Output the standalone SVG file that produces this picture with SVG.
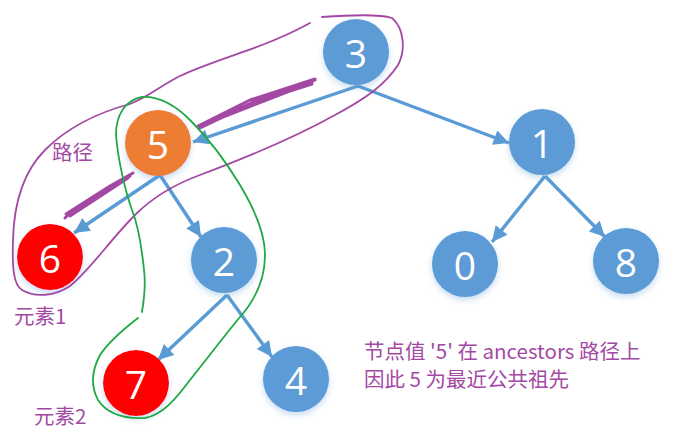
<svg xmlns="http://www.w3.org/2000/svg" width="673" height="447" viewBox="0 0 673 447">
<style>
.nd{stroke:none}
.blue{fill:#5B9BD5}
.orange{fill:#ED7D31}
.red{fill:#FF0000}
.lbl{font-family:"Open Sans","Noto Sans","Liberation Sans",sans-serif;font-size:39px;fill:#FFFFFF;text-anchor:middle;dominant-baseline:central}
.edge{stroke:#5B9BD5;stroke-width:3.4;fill:none;marker-end:url(#arr)}
.pur{stroke:#A349A4;fill:none;stroke-width:1.8;stroke-linejoin:round;stroke-linecap:round}
.scr{stroke:#A349A4;fill:none;stroke-width:3;stroke-linejoin:round;stroke-linecap:round}
.grn{stroke:#1FA845;fill:none;stroke-width:1.8;stroke-linejoin:round;stroke-linecap:round}
.note{font-family:"Noto Sans CJK SC","Noto Sans",sans-serif;font-size:20.5px;fill:#A349A4}
</style>
<defs>
<marker id="arr" viewBox="0 0 10 10" refX="10" refY="5" markerWidth="5" markerHeight="4.5" orient="auto" markerUnits="strokeWidth">
<path d="M0,0 L10,5 L0,10 z" fill="#5B9BD5"/>
</marker>
<filter id="sh" x="-30%" y="-30%" width="160%" height="170%">
<feGaussianBlur in="SourceAlpha" stdDeviation="3"/>
<feOffset dy="3" result="b"/>
<feFlood flood-color="#5B9BD5" flood-opacity="0.35"/>
<feComposite in2="b" operator="in"/>
<feMerge><feMergeNode/><feMergeNode in="SourceGraphic"/></feMerge>
</filter>
</defs>
<rect width="673" height="447" fill="#FFFFFF"/>

<g id="connectors">
<line class="edge" x1="358" y1="86" x2="193" y2="142"/>
<line class="edge" x1="358" y1="86" x2="509" y2="143"/>
<line class="edge" x1="160" y1="175" x2="74" y2="233"/>
<line class="edge" x1="160" y1="175" x2="201" y2="237"/>
<line class="edge" x1="227" y1="295" x2="158" y2="360"/>
<line class="edge" x1="227" y1="295" x2="272" y2="357"/>
<line class="edge" x1="545" y1="176" x2="492" y2="242"/>
<line class="edge" x1="545" y1="176" x2="605" y2="237"/>
</g>

<g id="node-3"><circle class="nd blue" cx="356" cy="52" r="33" filter="url(#sh)"/><text class="lbl" x="356" y="52">3</text></g>
<g id="node-5"><circle class="nd orange" cx="158" cy="143" r="33" filter="url(#sh)"/><text class="lbl" x="158" y="143">5</text></g>
<g id="node-1"><circle class="nd blue" cx="542" cy="142" r="33" filter="url(#sh)"/><text class="lbl" x="542" y="142">1</text></g>
<g id="node-6"><circle class="nd red" cx="50" cy="257" r="33" filter="url(#sh)"/><text class="lbl" x="50" y="257">6</text></g>
<g id="node-2"><circle class="nd blue" cx="224" cy="260" r="33" filter="url(#sh)"/><text class="lbl" x="224" y="260">2</text></g>
<g id="node-0"><circle class="nd blue" cx="465" cy="264" r="33" filter="url(#sh)"/><text class="lbl" x="465" y="264">0</text></g>
<g id="node-8"><circle class="nd blue" cx="626" cy="261" r="33" filter="url(#sh)"/><text class="lbl" x="626" y="261">8</text></g>
<g id="node-7"><circle class="nd red" cx="136" cy="383" r="33" filter="url(#sh)"/><text class="lbl" x="136" y="383">7</text></g>
<g id="node-4"><circle class="nd blue" cx="296" cy="379" r="33" filter="url(#sh)"/><text class="lbl" x="296" y="379">4</text></g>

<g id="annotations">
<path class="pur" d="M310,23 C290,34 275,40 262,45 C230,57 200,66 180,76 C160,86 150,96 130,104 C100,112 70,125 45,150 C25,170 14,200 13,240 C12,270 14,285 22,290 C35,298 55,296 70,286 C90,270 110,240 135,215 C150,200 170,186 200,175 C240,160 290,140 335,115 C365,99 385,85 398,65 C406,50 404,28 392,18 C380,14 350,15 322,17"/>
<path class="scr" d="M315,79 L250,100 L198,126 L252,104 L312,82 L260,99 L205,124 L300,87 L315,80 M312,84 L255,102 L200,128"/>
<path class="scr" d="M133,173 L110,186 L88,200 L66,214 L90,201 L118,182 L130,176 L100,194 L70,213 L65,218 M128,178 L96,199 L70,216"/>
<path class="grn" d="M142,312 C144,300 146,285 144,270 C142,250 138,225 132,210 C125,190 118,160 116,135 C116,115 125,100 142,97 C160,96 175,105 190,120 C210,140 228,165 240,185 C255,210 265,235 265,255 C265,280 255,300 240,317 C225,335 210,355 190,380 C175,400 162,415 145,418 C125,419 108,415 98,400 C90,385 92,370 100,355 C110,340 125,328 138,318"/>
<text class="note" x="52" y="160">路径</text>
<text class="note" x="14" y="324">元素1</text>
<text class="note" x="34" y="424">元素2</text>
<text class="note" x="364" y="359">节点值 '5' 在 ancestors 路径上</text>
<text class="note" x="364" y="387">因此 5 为最近公共祖先</text>
</g>
</svg>
